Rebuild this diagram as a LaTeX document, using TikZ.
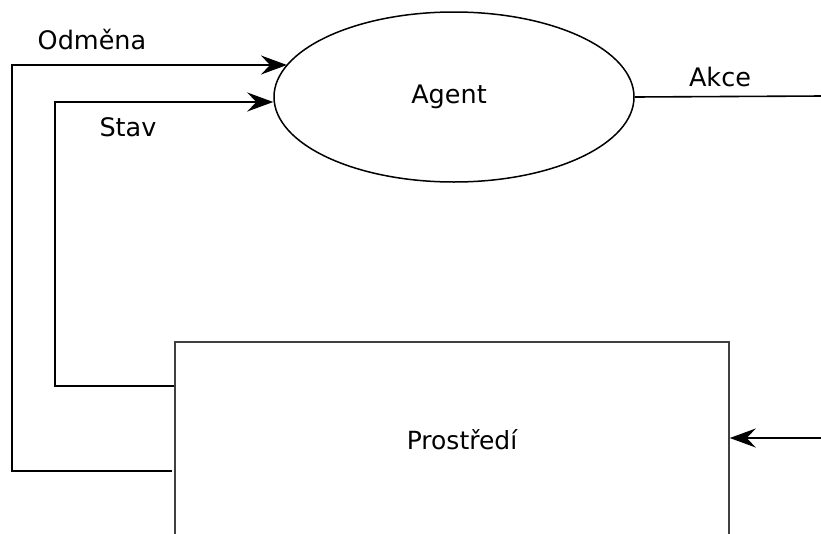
\documentclass[tikz,border=0pt]{standalone}
\usepackage{fontspec}
\setmainfont{DejaVu Sans}
\usetikzlibrary{shapes.geometric,arrows.meta}
\tikzset{
  conn/.style={line width=1.6pt, black},
  arr/.style={conn, -{Stealth[length=26pt, width=19pt, inset=9pt]}},
  lbl/.style={font=\fontsize{25.5}{30}\selectfont, inner sep=0pt},
  agentbox/.style={ellipse, draw, line width=1.5pt, minimum width=360pt, minimum height=170pt, inner sep=0pt, font=\fontsize{25.5}{30}\selectfont},
  envbox/.style={rectangle, draw=black!75, line width=1.5pt, minimum width=554pt, minimum height=196pt, inner sep=0pt, font=\fontsize{25}{30}\selectfont}
}
\begin{document}
\begin{tikzpicture}[x=1pt, y=-1pt]
\clip (0,0) rectangle (821,533);
\fill[white] (0,0) rectangle (821,533);
\node[agentbox] (agent) at (454,97) {\hspace*{-10pt}Agent};
\node[envbox] (env) at (452,440) {\hspace*{20pt}Prostředí};
% labels
\node[lbl] (lodm) at (92,40) {Odměna};
\node[lbl] (lstav) at (128,127) {Stav};
\node[lbl] (lakce) at (720,77) {Akce};
% coordinates
\coordinate (oStart) at (172,471);
\coordinate (oTip) at (287,65);
\coordinate (aEnd) at (823,96);
\coordinate (inStart) at (823,438);
% connectors
\draw[conn] (agent.east) -- (aEnd);
\draw[arr] (inStart) -- (inStart -| env.east);
\draw[arr] (oStart) -- (12,471) -- (12,65) -- (oTip);
\draw[arr] (env.west |- 0,386) -- (55,386) -- (55,102) -- (agent.west |- 0,102);
\end{tikzpicture}
\end{document}
